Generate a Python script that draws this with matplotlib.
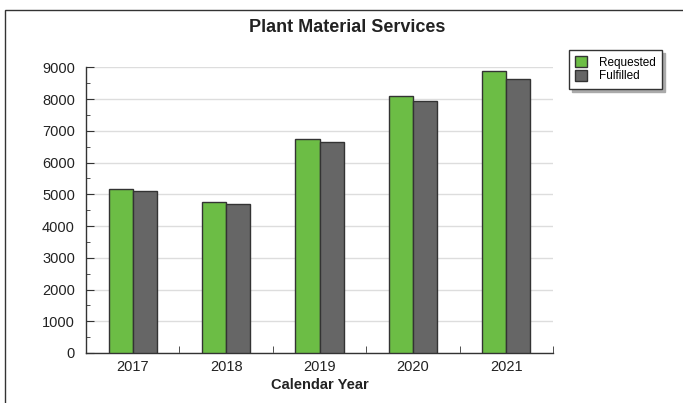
import matplotlib.pyplot as plt
import numpy as np
from matplotlib.patches import Rectangle

plt.rcParams['font.family'] = ['Liberation Sans', 'DejaVu Sans']

# datos
anios = ['2017', '2018', '2019', '2020', '2021']
solicitados = [5155, 4750, 6730, 8105, 8885]
cumplidos = [5105, 4685, 6655, 7950, 8625]

verde = '#6cbd45'
gris = '#666666'
borde = '#333333'

fig = plt.figure(figsize=(6.83, 4.03), dpi=100)
ax = fig.add_axes([86 / 683, 50 / 403, 467 / 683, 285.7 / 403])

x = np.arange(len(anios))
ancho = 0.257
ax.bar(x - ancho / 2, solicitados, ancho, color=verde, edgecolor=borde, linewidth=1, label='Requested', zorder=3)
ax.bar(x + ancho / 2, cumplidos, ancho, color=gris, edgecolor=borde, linewidth=1, label='Fulfilled', zorder=3)

ax.set_xlim(-0.5, len(anios) - 0.5)
ax.set_ylim(0, 9000)
ax.set_yticks(range(0, 9001, 1000))
ax.set_yticks(range(500, 9000, 1000), minor=True)
ax.grid(axis='y', color='#dddddd', linewidth=1, zorder=0)

ax.set_xticks(x)
ax.set_xticklabels(anios, fontsize=10.5, color='#222222')
ax.tick_params(axis='x', length=0, pad=5)
ax.set_xticks(np.arange(0.5, len(anios), 1.0), minor=True)
ax.tick_params(axis='x', which='minor', direction='in', length=5, color=borde)
ax.tick_params(axis='y', which='major', direction='in', length=6, color=borde, labelsize=10.5, labelcolor='#222222', pad=8)
ax.tick_params(axis='y', which='minor', direction='in', length=3, color=borde)

for lado in ['top', 'right']:
    ax.spines[lado].set_visible(False)
for lado in ['left', 'bottom']:
    ax.spines[lado].set_color(borde)
    ax.spines[lado].set_linewidth(1)

ax.set_xlabel('Calendar Year', fontsize=10.5, fontweight='bold', color='#222222', labelpad=3)
fig.text(347 / 683, 1 - 28 / 403, 'Plant Material Services', ha='center', va='center',
         fontsize=13, fontweight='bold', color='#222222')

# marco de la figura
fig.patches.append(Rectangle((5 / 683, -0.05), 1.2, 1.05 - 10 / 403, transform=fig.transFigure,
                             fill=False, edgecolor='#333333', linewidth=1))

# leyenda con sombra
leg = ax.legend(loc='upper left', bbox_to_anchor=(569 / 683, 1 - 50 / 403), bbox_transform=fig.transFigure,
                fontsize=8.5, frameon=True, fancybox=False, shadow={'color': '#aaaaaa', 'alpha': 1},
                borderpad=0.55, labelspacing=0.1, handlelength=1.0, handleheight=1.0, handletextpad=1.0,
                borderaxespad=0)
leg.get_frame().set_edgecolor('#333333')
leg.get_frame().set_linewidth(1)

fig.savefig('out.png', dpi=100)
